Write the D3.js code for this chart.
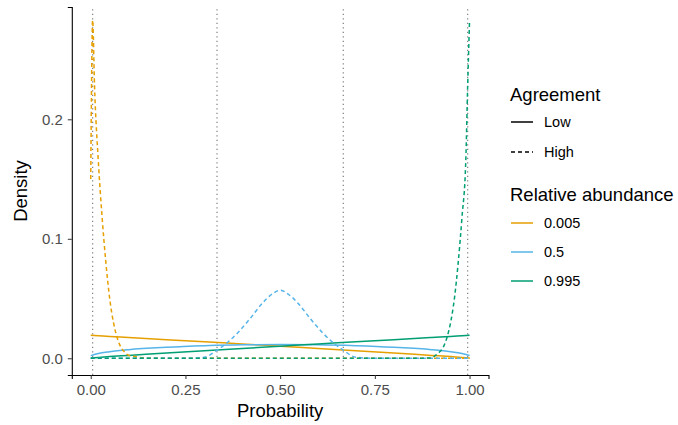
<!DOCTYPE html>
<html>
<head>
<meta charset="utf-8">
<title>Density by agreement</title>
<style>
body{margin:0;background:#fff;font-family:"Liberation Sans",Arial,Helvetica,sans-serif;}
.axis text{font-size:15px;fill:#4d4d4d;}
.axis path{stroke:#000;stroke-width:1.1;}
.axis line{stroke:#333;}
.legend text{font-size:14.5px;fill:#000;}
svg text.title{font-size:18.5px;fill:#000;}
</style>
<script src="https://cdn.jsdelivr.net/npm/d3@7"></script>
</head>
<body>
<script>
var width = 678, height = 425;

// probability grids
var probLow = [0, 0.02, 0.05, 0.1, 0.2, 0.3, 0.4, 0.5, 0.6, 0.7, 0.8, 0.9, 0.95, 0.98, 1];
var probHigh = [0, 0.005, 0.01, 0.02, 0.03, 0.04, 0.05, 0.06, 0.07, 0.08, 0.09, 0.1,
	0.15, 0.2, 0.25, 0.3, 0.33, 0.36, 0.39, 0.42, 0.45, 0.48, 0.5,
	0.52, 0.55, 0.58, 0.61, 0.64, 0.67, 0.7, 0.75, 0.8, 0.85, 0.9,
	0.91, 0.92, 0.93, 0.94, 0.95, 0.96, 0.97, 0.98, 0.99, 0.995, 1];

// low agreement (solid)
var lowA = [0.0193, 0.0189, 0.0183, 0.0174, 0.0156, 0.0138, 0.0120, 0.0101, 0.0082, 0.0063, 0.0044, 0.0024, 0.0014, 0.0007, 0.0003];
var lowB = [0.0022, 0.0040, 0.0055, 0.0072, 0.0092, 0.0105, 0.0113, 0.0115, 0.0113, 0.0105, 0.0092, 0.0072, 0.0055, 0.0040, 0.0024];
var lowC = [0.0003, 0.0007, 0.0014, 0.0024, 0.0044, 0.0063, 0.0082, 0.0101, 0.0120, 0.0138, 0.0156, 0.0174, 0.0183, 0.0189, 0.0193];

// high agreement (dashed)
var highA = [0.150, 0.283, 0.228, 0.165, 0.118, 0.080, 0.050, 0.030, 0.017, 0.009, 0.005, 0.0025,
	0.0003, 0, 0, 0, 0, 0, 0, 0, 0, 0, 0,
	0, 0, 0, 0, 0, 0, 0, 0, 0, 0, 0,
	0, 0, 0, 0, 0, 0, 0, 0, 0, 0, 0];
var highB = [0, 0, 0, 0, 0, 0, 0, 0, 0, 0, 0, 0,
	0, 0, 0, 0.0008, 0.006, 0.013, 0.022, 0.033, 0.045, 0.054, 0.057,
	0.054, 0.045, 0.033, 0.022, 0.013, 0.006, 0.0008, 0, 0, 0, 0,
	0, 0, 0, 0, 0, 0, 0, 0, 0, 0, 0];
var highC = [0, 0, 0, 0, 0, 0, 0, 0, 0, 0, 0, 0,
	0, 0, 0, 0, 0, 0, 0, 0, 0, 0, 0,
	0, 0, 0, 0, 0, 0, 0, 0, 0, 0, 0.0003,
	0.0025, 0.005, 0.009, 0.017, 0.030, 0.050, 0.080, 0.118, 0.165, 0.228, 0.283, 0.150];

var abundances = ["0.005", "0.5", "0.995"];
var agreements = ["Low", "High"];
var markerProbs = [0.005, 1/3, 2/3, 0.995];
var xTicks = [0, 0.25, 0.5, 0.75, 1];
var yTicks = [0, 0.1, 0.2];

var series = [
	{agree: "Low", abund: "0.005", x: probLow, y: lowA},
	{agree: "Low", abund: "0.5", x: probLow, y: lowB},
	{agree: "Low", abund: "0.995", x: probLow, y: lowC},
	{agree: "High", abund: "0.005", x: probHigh, y: highA},
	{agree: "High", abund: "0.5", x: probHigh, y: highB},
	{agree: "High", abund: "0.995", x: probHigh, y: highC}
];

var color = d3.scaleOrdinal().domain(abundances).range(["#E69F00", "#56B4E9", "#009E73"]);
var dash = d3.scaleOrdinal().domain(agreements).range([null, "4,3"]);

var x = d3.scaleLinear().domain([-0.05, 1.05]).range([71.8, 488.5]);
var y = d3.scaleLinear().domain([-0.014, 0.294]).range([375, 7]);

var svg = d3.select("body").append("svg")
	.attr("width", width)
	.attr("height", height);

// reference lines
svg.append("g").selectAll("line")
	.data(markerProbs)
	.enter().append("line")
	.attr("x1", function(d){return x(d);})
	.attr("x2", function(d){return x(d);})
	.attr("y1", y.range()[0])
	.attr("y2", y.range()[1])
	.attr("stroke", "#7f7f7f")
	.attr("stroke-width", 1.2)
	.attr("stroke-dasharray", "1.3,3.2");

var line = d3.line()
	.x(function(d){return x(d[0]);})
	.y(function(d){return y(d[1]);})
	.curve(d3.curveMonotoneX);

svg.append("g").selectAll("path")
	.data(series)
	.enter().append("path")
	.attr("fill", "none")
	.attr("stroke", function(d){return color(d.abund);})
	.attr("stroke-width", 1.5)
	.attr("stroke-dasharray", function(d){return dash(d.agree);})
	.attr("d", function(d){return line(d.x.map(function(v, i){return [v, d.y[i]];}));});

// axes
svg.append("g")
	.attr("class", "axis")
	.attr("transform", "translate(0," + y.range()[0] + ")")
	.call(d3.axisBottom(x).tickValues(xTicks).tickFormat(d3.format(".2f")).tickSizeOuter(0).tickSize(4).tickPadding(5));

svg.append("g")
	.attr("class", "axis")
	.attr("transform", "translate(" + x.range()[0] + ",0)")
	.call(d3.axisLeft(y).tickValues(yTicks).tickFormat(d3.format(".1f")).tickSizeOuter(0).tickSize(4).tickPadding(5));

svg.append("text")
	.attr("class", "title")
	.attr("x", (x.range()[0] + x.range()[1]) / 2)
	.attr("y", 417)
	.attr("text-anchor", "middle")
	.text("Probability");

svg.append("text")
	.attr("class", "title")
	.attr("transform", "translate(27," + ((y.range()[0] + y.range()[1]) / 2) + ") rotate(-90)")
	.attr("text-anchor", "middle")
	.text("Density");

// legends
var leg = svg.append("g").attr("class", "legend");

leg.append("text").attr("class", "title").attr("x", 510).attr("y", 101).text("Agreement");
var la = leg.selectAll(".la")
	.data(agreements)
	.enter().append("g")
	.attr("class", "la")
	.attr("transform", function(d, i){return "translate(511," + (122 + i * 30) + ")";});
la.append("line")
	.attr("x2", 22)
	.attr("stroke", "#000")
	.attr("stroke-width", 1.5)
	.attr("stroke-dasharray", function(d){return dash(d);});
la.append("text").attr("x", 33).attr("dy", "0.35em").text(function(d){return d;});

leg.append("text").attr("class", "title").attr("x", 510).attr("y", 201).text("Relative abundance");
var lb = leg.selectAll(".lb")
	.data(abundances)
	.enter().append("g")
	.attr("class", "lb")
	.attr("transform", function(d, i){return "translate(511," + (223 + i * 29) + ")";});
lb.append("line")
	.attr("x2", 22)
	.attr("stroke", function(d){return color(d);})
	.attr("stroke-width", 1.5);
lb.append("text").attr("x", 33).attr("dy", "0.35em").text(function(d){return d;});
</script>
</body>
</html>
